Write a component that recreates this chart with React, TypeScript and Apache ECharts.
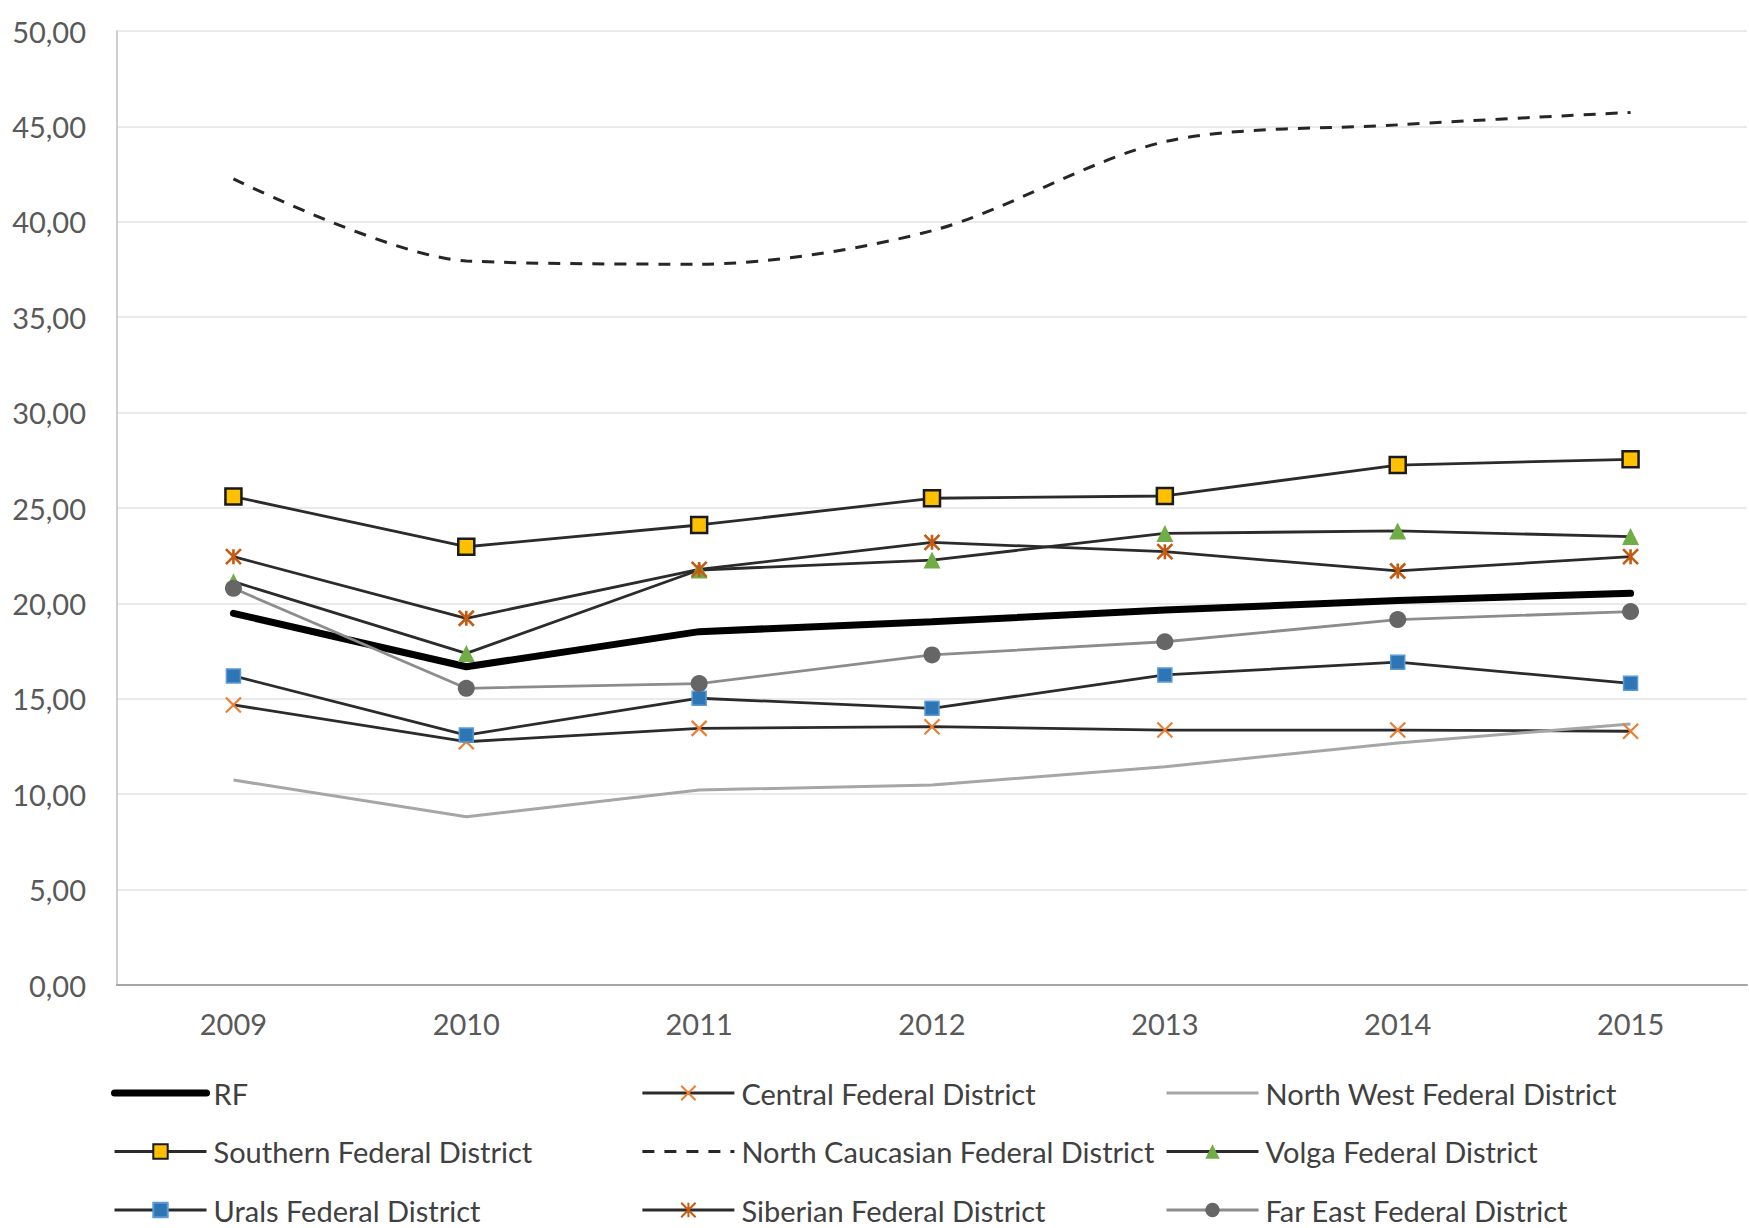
import React, { useEffect, useRef } from "react";
import * as echarts from "echarts";

const years = ["2009", "2010", "2011", "2012", "2013", "2014", "2015"];
const rf = [19.48, 16.68, 18.52, 19.04, 19.65, 20.15, 20.53];
const central = [14.68, 12.75, 13.45, 13.54, 13.36, 13.36, 13.3];
const northWest = [10.74, 8.82, 10.22, 10.48, 11.44, 12.68, 13.68];
const southern = [25.6, 22.97, 24.11, 25.51, 25.63, 27.25, 27.55];
const northCaucasian = [42.25, 37.95, 37.78, 39.53, 44.2, 45.08, 45.73];
const volga = [21.14, 17.38, 21.75, 22.27, 23.67, 23.8, 23.5];
const urals = [16.2, 13.1, 15.03, 14.5, 16.25, 16.92, 15.81];
const siberian = [22.45, 19.22, 21.78, 23.2, 22.71, 21.7, 22.45];
const farEast = [20.79, 15.55, 15.8, 17.3, 17.99, 19.15, 19.57];

const names = {
  rf: "RF",
  central: "Central Federal District",
  northWest: "North West Federal District",
  southern: "Southern Federal District",
  northCaucasian: "North Caucasian Federal District",
  volga: "Volga Federal District",
  urals: "Urals Federal District",
  siberian: "Siberian Federal District",
  farEast: "Far East Federal District",
};

const FONT = "Lato";
const LINE = "#2b2b2b";

export default function App() {
  const ref = useRef<HTMLDivElement>(null);
  useEffect(() => {
    if (!ref.current) return;
    const chart = echarts.init(ref.current, null, { renderer: "svg" });
    const base = (name: string, data: number[], extra: any) => ({
      type: "line",
      name,
      data,
      animation: false,
      ...extra,
    });
    const legendCommon = {
      orient: "vertical",
      top: 1078,
      height: 170,
      padding: 0,
      itemWidth: 92,
      itemHeight: 18,
      itemGap: 28.5,
      lineStyle: { width: 2.8 },
      textStyle: {
        fontFamily: FONT,
        fontSize: 29,
        color: "#404040",
        lineHeight: 30,
        padding: [0, 0, 0, 2],
      },
      selectedMode: false,
    };
    const option: any = {
      animation: false,
      backgroundColor: "#ffffff",
      grid: { left: 117, top: 31, right: 2, height: 954, containLabel: false },
      xAxis: {
        type: "category",
        data: years,
        boundaryGap: true,
        axisLine: { show: true, lineStyle: { color: "#a6a6a6", width: 2 } },
        axisTick: { show: false },
        axisLabel: { fontFamily: FONT, fontSize: 29, color: "#595959", margin: 24 },
        splitLine: { show: false },
      },
      yAxis: {
        type: "value",
        min: 0,
        max: 50,
        interval: 5,
        axisLine: { show: true, lineStyle: { color: "#bfbfbf", width: 1.5 } },
        axisTick: { show: false },
        axisLabel: {
          fontFamily: FONT,
          fontSize: 29,
          color: "#595959",
          margin: 31,
          formatter: (v: number) => v.toFixed(2).replace(".", ","),
        },
        splitLine: { show: true, lineStyle: { color: "#e3e3e3", width: 1.5 } },
      },
      legend: [
        {
          ...legendCommon,
          left: 111,
          data: [
            {
              name: names.rf,
              itemStyle: { color: "transparent", borderWidth: 0 },
              lineStyle: { width: 7 },
            },
            names.southern,
            names.urals,
          ],
        },
        {
          ...legendCommon,
          left: 641,
          data: [names.central, names.northCaucasian, names.siberian],
        },
        {
          ...legendCommon,
          left: 1165,
          data: [
            {
              name: names.northWest,
              itemStyle: { color: "transparent", borderWidth: 0 },
              lineStyle: { width: 3 },
            },
            names.volga,
            names.farEast,
          ],
        },
      ],
      series: [
        base(names.rf, rf, {
          symbol: "circle",
          showSymbol: false,
          itemStyle: { color: "transparent" },
          lineStyle: { color: "#000000", width: 7, cap: "round" },
        }),
        base(names.central, central, {
          symbol: "path://M0,0L10,10M10,0L0,10",
          symbolSize: 15,
          itemStyle: { color: "transparent", borderColor: "#ED7D31", borderWidth: 2.2 },
          lineStyle: { color: LINE, width: 2.8 },
        }),
        base(names.northWest, northWest, {
          symbol: "circle",
          showSymbol: false,
          itemStyle: { color: "transparent" },
          lineStyle: { color: "#a6a6a6", width: 3 },
        }),
        base(names.southern, southern, {
          symbol: "rect",
          symbolSize: 16,
          itemStyle: { color: "#FFC000", borderColor: "#1a1a1a", borderWidth: 2.5 },
          lineStyle: { color: LINE, width: 2.8 },
        }),
        base(names.northCaucasian, northCaucasian, {
          symbol: "circle",
          showSymbol: false,
          smooth: 0.3,
          itemStyle: { color: "transparent" },
          lineStyle: { color: "#262626", width: 3, type: [12, 10] },
        }),
        base(names.volga, volga, {
          symbol: "triangle",
          symbolSize: 17,
          itemStyle: { color: "#70AD47" },
          lineStyle: { color: LINE, width: 2.8 },
        }),
        base(names.urals, urals, {
          symbol: "rect",
          symbolSize: 14,
          itemStyle: { color: "#2E75B6", borderColor: "#5B9BD5", borderWidth: 1.5 },
          lineStyle: { color: LINE, width: 2.8 },
        }),
        base(names.siberian, siberian, {
          symbol: "path://M0,0L10,10M10,0L0,10M5,0L5,10",
          symbolSize: 15,
          itemStyle: { color: "transparent", borderColor: "#C55A11", borderWidth: 2.6 },
          lineStyle: { color: LINE, width: 2.8 },
        }),
        base(names.farEast, farEast, {
          symbol: "circle",
          symbolSize: 17,
          itemStyle: { color: "#666666" },
          lineStyle: { color: "#8c8c8c", width: 2.8 },
        }),
      ],
    };
    chart.setOption(option);
    return () => chart.dispose();
  }, []);
  return (
    <div
      ref={ref}
      style={{ position: "absolute", left: 0, top: 0, width: 1749, height: 1228, background: "#fff" }}
    />
  );
}
